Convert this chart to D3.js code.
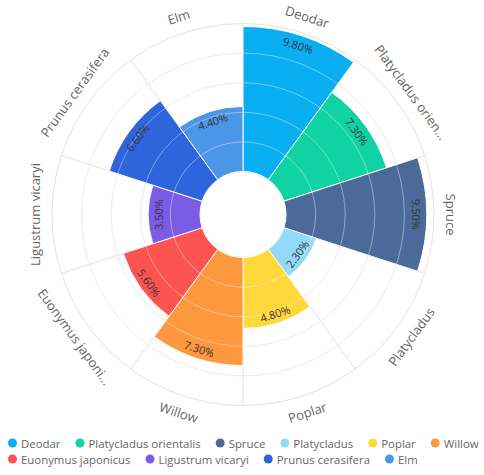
<!DOCTYPE html>
<html>
<head>
<meta charset="utf-8">
<script src="https://cdn.jsdelivr.net/npm/d3@7"></script>
<style>
  body { margin: 0; background: #fff; }
  svg { font-family: "Open Sans", "Noto Sans", sans-serif; }
</style>
</head>
<body>
<svg id="chart" width="484" height="475"></svg>
<script>
var categories = ["Deodar", "Platycladus orientalis", "Spruce", "Platycladus", "Poplar",
  "Willow", "Euonymus japonicus", "Ligustrum vicaryi", "Prunus cerasifera", "Elm"];
var tickLabels = ["Deodar", "Platycladus orien...", "Spruce", "Platycladus", "Poplar",
  "Willow", "Euonymus japoni...", "Ligustrum vicaryi", "Prunus cerasifera", "Elm"];
var values = [9.8, 7.3, 9.5, 2.3, 4.8, 7.3, 5.6, 3.5, 6.6, 4.4];
var radialTicks = [0, 2, 4, 6, 8, 10];
var colors = ["#0aaff2", "#11d2a3", "#4b6a9a", "#93d9f8", "#ffd83c",
  "#fd983f", "#fd5452", "#7a5de4", "#2e64dc", "#4c96e7"];

var width = 484, height = 475;
var cx = 243, cy = 214.5;
var innerR = 43, outerR = 191;

var svg = d3.select("#chart");
var g = svg.append("g").attr("transform", "translate(" + cx + "," + cy + ")");

var x = d3.scaleBand().domain(categories).range([0, 2 * Math.PI]).padding(0);
var y = d3.scaleLinear().domain([0, 10]).range([innerR, outerR]);
var color = d3.scaleOrdinal().domain(categories).range(colors);

var data = categories.map(function(c, i) { return { name: c, label: tickLabels[i], value: values[i] }; });

function rotFor(a) {
  var deg = Math.round(a * 180 / Math.PI * 1000) / 1000;
  if (deg > 90 && deg < 270) return deg - 180;
  if (deg >= 270) return deg - 360;
  return deg;
}
function mid(d) { return x(d.name) + x.bandwidth() / 2; }

// grid under bars
g.selectAll(".grid").data(radialTicks).enter().append("circle")
  .attr("r", function(d) { return y(d); })
  .attr("fill", "none").attr("stroke", "#e2e2e2").attr("stroke-width", 1);

g.selectAll(".spoke").data(categories).enter().append("line")
  .attr("x1", function(d) { return Math.sin(x(d)) * innerR; })
  .attr("y1", function(d) { return -Math.cos(x(d)) * innerR; })
  .attr("x2", function(d) { return Math.sin(x(d)) * outerR; })
  .attr("y2", function(d) { return -Math.cos(x(d)) * outerR; })
  .attr("stroke", "#e2e2e2").attr("stroke-width", 1);

var arc = d3.arc()
  .innerRadius(innerR)
  .outerRadius(function(d) { return y(d.value); })
  .startAngle(function(d) { return x(d.name); })
  .endAngle(function(d) { return x(d.name) + x.bandwidth(); });

g.selectAll(".bar").data(data).enter().append("path")
  .attr("d", arc)
  .attr("fill", function(d) { return color(d.name); })
  .attr("stroke", "#fff").attr("stroke-width", 1);

// grid lines showing through bars
g.selectAll(".grid2").data(radialTicks.slice(1, -1)).enter().append("circle")
  .attr("r", function(d) { return y(d); })
  .attr("fill", "none").attr("stroke", "#fff").attr("stroke-opacity", 0.4).attr("stroke-width", 1);

// value labels
g.selectAll(".val").data(data).enter().append("text")
  .attr("transform", function(d) {
    var a = mid(d), r = y(d.value) - 10;
    return "translate(" + (Math.sin(a) * r) + "," + (-Math.cos(a) * r) + ") rotate(" + rotFor(a) + ")";
  })
  .attr("text-anchor", "middle").attr("dominant-baseline", "central")
  .attr("font-size", 11).attr("fill", "#333")
  .text(function(d) { return d.value.toFixed(2) + "%"; });

// category labels
g.selectAll(".cat").data(data).enter().append("text")
  .attr("transform", function(d) {
    var a = mid(d), r = outerR + 17;
    return "translate(" + (Math.sin(a) * r) + "," + (-Math.cos(a) * r) + ") rotate(" + rotFor(a) + ")";
  })
  .attr("text-anchor", "middle").attr("dominant-baseline", "central")
  .attr("font-size", 13).attr("fill", "#666")
  .text(function(d) { return d.label; });

// legend
var legend = svg.append("g");
var lx = 8, ly = 443, rowH = 16;
data.forEach(function(d) {
  var item = legend.append("g");
  item.append("circle").attr("cx", 4.5).attr("cy", 0).attr("r", 4.5).attr("fill", color(d.name));
  var t = item.append("text").attr("x", 13).attr("y", 0).attr("dominant-baseline", "central")
    .attr("font-size", 11.4).attr("fill", "#666").text(d.name);
  var w = 13 + t.node().getComputedTextLength();
  if (lx + w > width) { lx = 8; ly += rowH; }
  item.attr("transform", "translate(" + lx + "," + ly + ")");
  lx += w + 15;
});
</script>
</body>
</html>
